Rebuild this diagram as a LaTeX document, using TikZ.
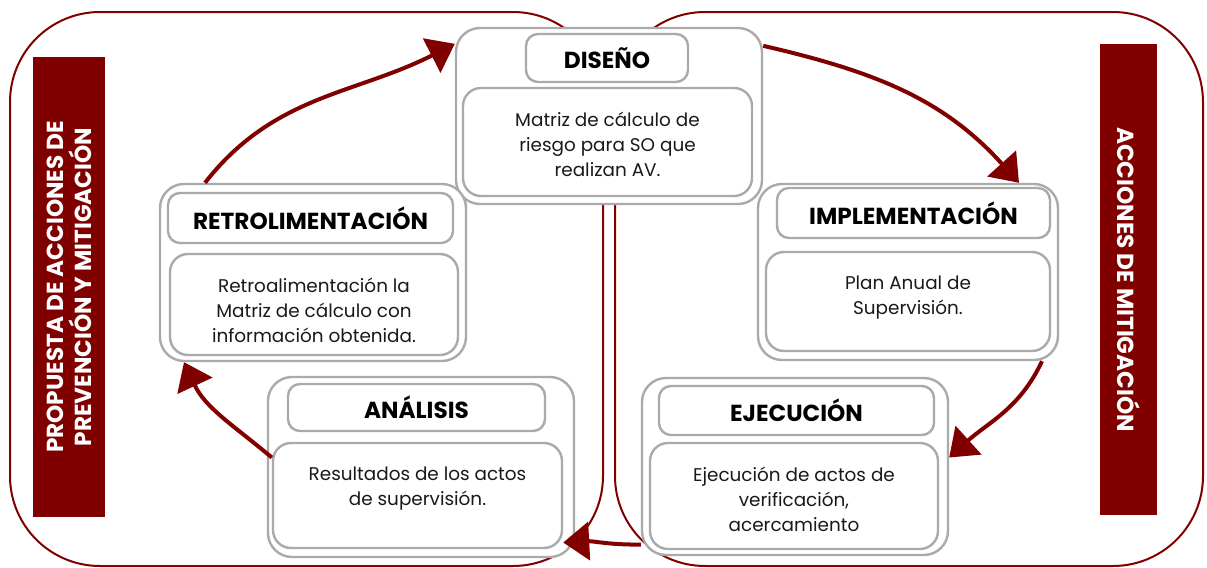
\documentclass[tikz,border=0pt]{standalone}
\usepackage{fontspec}
\setmainfont{Poppins}
\usetikzlibrary{arrows.meta}
\definecolor{vino}{RGB}{128,0,0}
\definecolor{gris}{RGB}{170,170,170}

\tikzset{
  marco/.style = {rectangle, draw = gris, line width = 1.2pt,
                  rounded corners = 12pt, fill = white},
  titulo/.style = {rectangle, draw = gris, line width = 1.2pt,
                   rounded corners = 6pt, fill = white},
  cuerpo/.style = {rectangle, draw = gris, line width = 1.2pt,
                   rounded corners = 9pt, fill = white},
  tittext/.style = {font = \fontsize{11.6}{13}\selectfont\bfseries},
  bodytext/.style = {font = \fontsize{9.2}{12.5}\selectfont, align = center,
                     anchor = north, inner sep = 0pt, text = black!90},
  barra/.style = {rectangle, fill = vino},
  bartext/.style = {font = \fontsize{11.6}{14}\selectfont\bfseries,
                    text = white, align = center},
  flecha/.style = {vino, line width = 2pt}
}

\begin{document}
\begin{tikzpicture}[x=0.5pt, y=-0.5pt, ->, >={Triangle[length=13pt, width=19pt]}]

  \useasboundingbox (0,0) rectangle (1207,568);

  % fondo
  \draw[vino, line width = 1pt, rounded corners = 45pt, -] (10,12) rectangle (603,566);
  \draw[vino, line width = 1pt, rounded corners = 45pt, -] (615,12) rectangle (1203,566);

  \node[barra,
        minimum width = 36pt,
        minimum height = 230pt
        ] (barIzq) at (69,287) {};
  \node[bartext, rotate = 90] (barIzqT) at (barIzq.center)
        {PROPUESTA DE ACCIONES DE\\PREVENCIÓN Y MITIGACIÓN};

  \node[barra,
        minimum width = 28.5pt,
        minimum height = 235.5pt
        ] (barDer) at (1128.5,279.5) {};
  \node[bartext, rotate = -90] (barDerT) at (barDer.center)
        {ACCIONES DE MITIGACIÓN};

  % diseno
  \node[marco,
        minimum width = 153pt,
        minimum height = 88pt
        ] (disOut) at (609,116) {};
  \node[titulo,
        minimum width = 81pt,
        minimum height = 24pt
        ] (disTit) at (607,58) {};
  \node[tittext] (disTitT) at (disTit.center) {DISEÑO};
  \node[cuerpo,
        minimum width = 144.5pt,
        minimum height = 54pt
        ] (disTxt) at (607.5,142) {};
  \node[bodytext] (disTxtT) at ([yshift=-12.5pt]disTxt.north)
        {Matriz de cálculo de\\riesgo para SO que\\realizan AV.};

  % implementacion
  \node[marco,
        minimum width = 150pt,
        minimum height = 88pt
        ] (impOut) at (908,272) {};
  \node[titulo,
        minimum width = 136.5pt,
        minimum height = 25pt
        ] (impTit) at (913.5,213) {};
  \node[tittext] (impTitT) at (impTit.center) {IMPLEMENTACIÓN};
  \node[cuerpo,
        minimum width = 142pt,
        minimum height = 49.5pt
        ] (impTxt) at (908,301.5) {};
  \node[bodytext] (impTxtT) at ([yshift=-12.5pt]impTxt.north)
        {Plan Anual de\\Supervisión.};

  % ejecucion
  \node[marco,
        minimum width = 153pt,
        minimum height = 88.5pt
        ] (ejeOut) at (795,466.5) {};
  \node[titulo,
        minimum width = 137.5pt,
        minimum height = 24.5pt
        ] (ejeTit) at (796.5,410.5) {};
  \node[tittext] (ejeTitT) at (ejeTit.center) {EJECUCIÓN};
  \node[cuerpo,
        minimum width = 144pt,
        minimum height = 53pt
        ] (ejeTxt) at (794,496) {};
  \node[bodytext] (ejeTxtT) at ([yshift=-12.5pt]ejeTxt.north)
        {Ejecución de actos de\\verificación,\\acercamiento};

  % analisis
  \node[marco,
        minimum width = 153pt,
        minimum height = 90pt
        ] (anaOut) at (421,467) {};
  \node[titulo,
        minimum width = 128.5pt,
        minimum height = 23.5pt
        ] (anaTit) at (416.5,407.5) {};
  \node[tittext] (anaTitT) at (anaTit.center) {ANÁLISIS};
  \node[cuerpo,
        minimum width = 144.5pt,
        minimum height = 52.5pt
        ] (anaTxt) at (417.5,495.5) {};
  \node[bodytext] (anaTxtT) at ([yshift=-12.5pt]anaTxt.north)
        {Resultados de los actos\\de supervisión.};

  % retroalimentacion
  \node[marco,
        minimum width = 153pt,
        minimum height = 88.5pt
        ] (retOut) at (313,272.5) {};
  \node[titulo,
        minimum width = 142.5pt,
        minimum height = 25pt
        ] (retTit) at (310.5,218) {};
  \node[tittext] (retTitT) at (retTit.center) {RETROLIMENTACIÓN};
  \node[cuerpo,
        minimum width = 144pt,
        minimum height = 50.5pt
        ] (retTxt) at (314,304.5) {};
  \node[bodytext] (retTxtT) at ([yshift=-12.5pt]retTxt.north)
        {Retroalimentación la\\Matriz de cálculo con\\información obtenida.};

  % ciclo
  \draw[flecha] ([xshift=-54pt]retOut.north) to[out=52, in=207]
        ([yshift=-8.5pt]disOut.north west);
  \draw[flecha] ([yshift=-9.5pt]disOut.north east) to[out=-13, in=132]
        ([xshift=55.5pt]impOut.north);
  \draw[flecha] ([xshift=67pt]impOut.south) to[out=-115, in=42]
        ([yshift=4.5pt]ejeOut.east);
  \draw[flecha] ([yshift=-39pt]ejeOut.west) to[out=181, in=3]
        ([yshift=-23.5pt]anaTxt.east);
  \draw[flecha] ([yshift=19pt]anaTxt.west) to[out=140, in=-65]
        ([xshift=-64.5pt]retOut.south);

\end{tikzpicture}
\end{document}
